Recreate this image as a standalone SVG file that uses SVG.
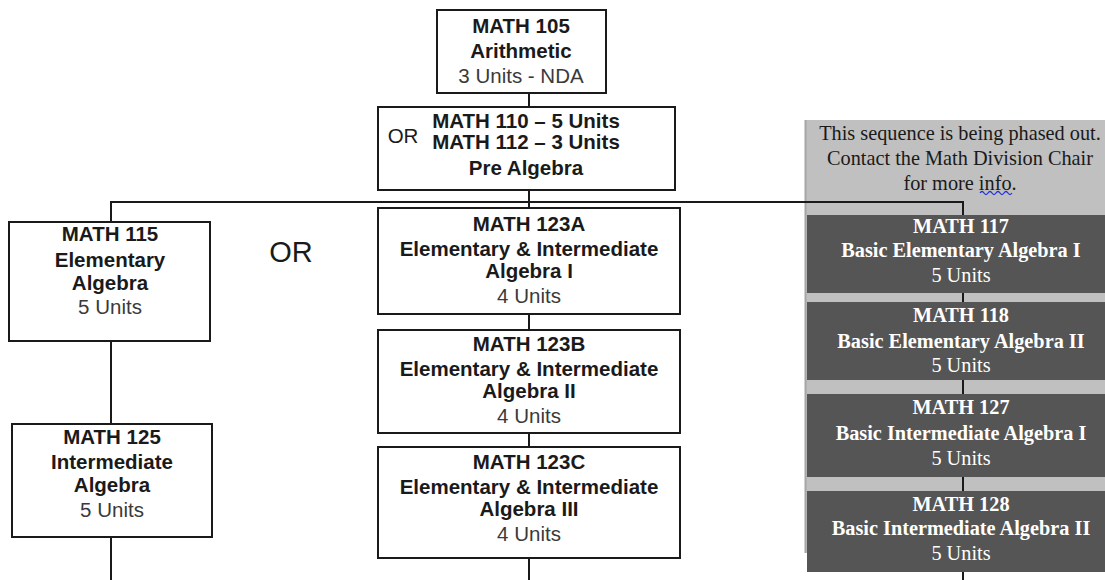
<svg xmlns="http://www.w3.org/2000/svg" width="1105" height="580" viewBox="0 0 1105 580">
<style>
.box{fill:#fff;stroke:#1a1a1a;stroke-width:2}
.dk{fill:#555555}
.t{font-family:"Liberation Sans",Arial,sans-serif;font-size:20.5px;text-anchor:middle;fill:#1a1a1a}
.b{font-weight:bold}
.u{fill:#3a3a3a}
.s{font-family:"Liberation Serif","Times New Roman",serif;font-size:20.3px;text-anchor:middle;fill:#1a1a1a}
.sw{fill:#fff}
.conn{stroke:#1a1a1a;stroke-width:2;fill:none}
</style>
<rect width="1105" height="580" fill="#fff"/>
<g id="phase-panel">
<rect x="805" y="120" width="300" height="433" fill="#c0c0c0"/>
<line x1="805.5" y1="120" x2="805.5" y2="553" stroke="#a6a6a6" stroke-width="2"/>
<text class="s" x="960" y="140">This sequence is being phased out.</text>
<text class="s" x="960" y="165">Contact the Math Division Chair</text>
<text class="s" x="960" y="190">for more info.</text>
<path d="M980,193 q2,-3 4,0 t4,0 t4,0 t4,0 t4,0 t4,0 t4,0 t4,0" stroke="#2233dd" stroke-width="1.3" fill="none"/>
</g>
<g id="connectors">
<line class="conn" x1="529" y1="93" x2="529" y2="107"/>
<polyline class="conn" points="111,222 111,202 963,202 963,215"/>
<line class="conn" x1="529" y1="190" x2="529" y2="208"/>
<line class="conn" x1="111" y1="341" x2="111" y2="424"/>
<line class="conn" x1="111" y1="537" x2="111" y2="580"/>
<line class="conn" x1="529" y1="314" x2="529" y2="330"/>
<line class="conn" x1="529" y1="433" x2="529" y2="447"/>
<line class="conn" x1="529" y1="558" x2="529" y2="580"/>
<line class="conn" x1="963" y1="293" x2="963" y2="302"/>
<line class="conn" x1="963" y1="380" x2="963" y2="394"/>
<line class="conn" x1="963" y1="477" x2="963" y2="491"/>
<line class="conn" x1="963" y1="572" x2="963" y2="580"/>
</g>
<g id="math105">
<rect class="box" x="437" y="10" width="169" height="83"/>
<text class="t b" x="521" y="33">MATH 105</text>
<text class="t b" x="521" y="58">Arithmetic</text>
<text class="t u" x="521" y="83">3 Units - NDA</text>
</g>
<g id="math110">
<rect class="box" x="378" y="107" width="297" height="83"/>
<text class="t" x="403" y="143">OR</text>
<text class="t b" x="526" y="128">MATH 110 – 5 Units</text>
<text class="t b" x="526" y="149">MATH 112 – 3 Units</text>
<text class="t b" x="526" y="175">Pre Algebra</text>
</g>
<g id="or-label">
<text class="t" x="291" y="262" style="font-size:29px">OR</text>
</g>
<g id="math115">
<rect class="box" x="9" y="222" width="201" height="119"/>
<text class="t b" x="110" y="241">MATH 115</text>
<text class="t b" x="110" y="267">Elementary</text>
<text class="t b" x="110" y="290">Algebra</text>
<text class="t u" x="110" y="314">5 Units</text>
</g>
<g id="math125">
<rect class="box" x="12" y="424" width="200" height="113"/>
<text class="t b" x="112" y="444">MATH 125</text>
<text class="t b" x="112" y="469">Intermediate</text>
<text class="t b" x="112" y="492">Algebra</text>
<text class="t u" x="112" y="517">5 Units</text>
</g>
<g id="math123a">
<rect class="box" x="378" y="208" width="302" height="106"/>
<text class="t b" x="529" y="231">MATH 123A</text>
<text class="t b" x="529" y="256">Elementary &amp; Intermediate</text>
<text class="t b" x="529" y="278">Algebra I</text>
<text class="t u" x="529" y="303">4 Units</text>
</g>
<g id="math123b">
<rect class="box" x="378" y="330" width="302" height="103"/>
<text class="t b" x="529" y="351">MATH 123B</text>
<text class="t b" x="529" y="376">Elementary &amp; Intermediate</text>
<text class="t b" x="529" y="398">Algebra II</text>
<text class="t u" x="529" y="423">4 Units</text>
</g>
<g id="math123c">
<rect class="box" x="378" y="447" width="302" height="111"/>
<text class="t b" x="529" y="469">MATH 123C</text>
<text class="t b" x="529" y="494">Elementary &amp; Intermediate</text>
<text class="t b" x="529" y="516">Algebra III</text>
<text class="t u" x="529" y="541">4 Units</text>
</g>
<g id="math117">
<rect class="dk" x="807" y="215" width="298" height="78"/>
<text class="s sw b" x="961" y="233">MATH 117</text>
<text class="s sw b" x="961" y="257">Basic Elementary Algebra I</text>
<text class="s sw" x="961" y="282">5 Units</text>
</g>
<g id="math118">
<rect class="dk" x="807" y="302" width="298" height="78"/>
<text class="s sw b" x="961" y="322">MATH 118</text>
<text class="s sw b" x="961" y="348">Basic Elementary Algebra II</text>
<text class="s sw" x="961" y="372">5 Units</text>
</g>
<g id="math127">
<rect class="dk" x="807" y="394" width="298" height="83"/>
<text class="s sw b" x="961" y="414">MATH 127</text>
<text class="s sw b" x="961" y="440">Basic Intermediate Algebra I</text>
<text class="s sw" x="961" y="465">5 Units</text>
</g>
<g id="math128">
<rect class="dk" x="807" y="491" width="298" height="81"/>
<text class="s sw b" x="961" y="511">MATH 128</text>
<text class="s sw b" x="961" y="535">Basic Intermediate Algebra II</text>
<text class="s sw" x="961" y="560">5 Units</text>
</g>
</svg>
